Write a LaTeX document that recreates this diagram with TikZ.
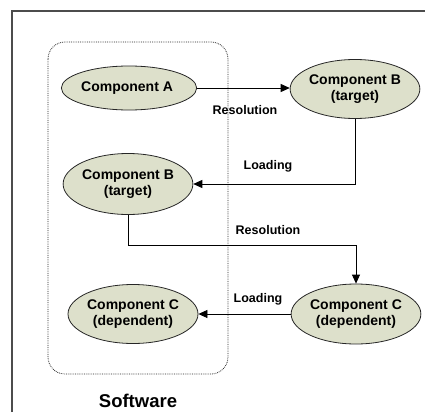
\documentclass[tikz,border=0pt]{standalone}
\usepackage{fontspec}
\setmainfont{Liberation Sans}
\usetikzlibrary{shapes.geometric,arrows.meta}

\definecolor{compfill}{HTML}{DDE0CB}

\begin{document}
\begin{tikzpicture}[x=1pt, y=-1pt,
        comp/.style={ellipse, draw=black!85, line width=0.8pt, fill=compfill,
            inner sep=0pt, align=center, font=\fontsize{14}{16}\selectfont\bfseries},
        lbl/.style={font=\fontsize{12.5}{14}\selectfont\bfseries},
        link/.style={line width=0.8pt, -{Triangle[length=9pt,width=8pt]}}]
            \useasboundingbox (0, 0) rectangle (425, 412);

            % frame, cut at the page edges
            \draw[line width=1.6pt, black!70] (12, 412) -- (12, 11) -- (425, 11);

            % software box
            \draw[densely dotted, line width=0.8pt, black!85, rounded corners=17pt]
                (48, 42) rectangle (228, 374);
            \node (sw) at (138, 401) {\fontsize{18.5}{20}\selectfont\bfseries Software};

            % components
            \node[comp, minimum width=127pt, minimum height=44pt] (compA) at (129, 88) { Component A };
            \node[comp, minimum width=124pt, minimum height=59pt] (compBr) at (355, 89) { Component B\\(target) };
            \node[comp, minimum width=127pt, minimum height=61pt] (compBl) at (128, 184) { Component B\\(target) };
            \node[comp, minimum width=122pt, minimum height=60pt] (compCr) at (356, 314) { Component C\\(dependent) };
            \node[comp, minimum width=130pt, minimum height=59pt] (compCl) at (133, 314) { Component C\\(dependent) };

            % edge labels
            \node[lbl] (res1) at (245, 110) { Resolution };
            \node[lbl] (load1) at (268, 166) { Loading };
            \node[lbl] (res2) at (268, 230) { Resolution };
            \node[lbl] (load2) at (258, 299) { Loading };

            % connectors
            \draw[link] (compA.east) -- (compA.east -| compBr.west);
            \draw[link] (compBr.south) |- (compBl.east);
            \draw[link] (compBl.south) -- ++(0, 30) -| (compCr.north);
            \draw[link] (compCr.west) -- (compCl.east);
        \end{tikzpicture}
\end{document}
